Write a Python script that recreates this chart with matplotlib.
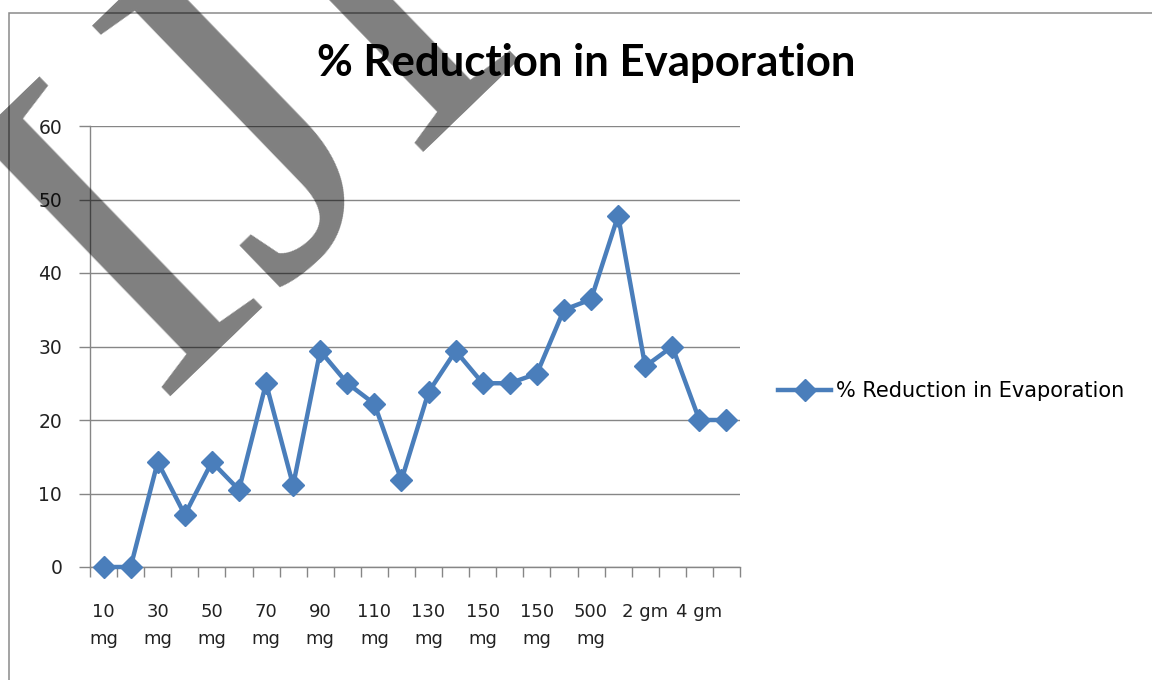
import numpy as np
import matplotlib
matplotlib.use("Agg")
import matplotlib.pyplot as plt
from matplotlib.patches import Rectangle

# dose levels and measured reduction (%)
categories = ["10 mg", "20 mg", "30 mg", "40 mg", "50 mg", "60 mg", "70 mg", "80 mg",
              "90 mg", "100 mg", "110 mg", "120 mg", "130 mg", "140 mg", "150 mg", "150 mg",
              "150 mg", "200 mg", "500 mg", "1 gm", "2 gm", "3 gm", "4 gm", "5 gm"]
reduction = [0, 0, 14.3, 7.1, 14.3, 10.5, 25, 11.1, 29.4, 25, 22.2, 11.8,
             23.8, 29.4, 25, 25, 26.3, 35, 36.4, 47.8, 27.3, 30, 20, 20]
yticks = [0, 10, 20, 30, 40, 50, 60]

series_name = "% Reduction in Evaporation"
blue = "#4a7ebb"
grey = "#868686"

W, H = 1152, 680
fig = plt.figure(figsize=(W / 100, H / 100), dpi=100)

# chart area border
fig.patches.append(Rectangle((9 / W, -0.1), 1.2, 1 - 13 / H + 0.1, transform=fig.transFigure,
                             fill=False, edgecolor="#8a8a8a", linewidth=1.1))

ax = fig.add_axes([90 / W, 1 - 567 / H, 650 / W, 441 / H])
x = np.arange(len(categories))
ax.plot(x, reduction, color=blue, linewidth=3.2, marker="D", markersize=11.5,
        clip_on=False, zorder=5, label=series_name)

ax.set_xlim(-0.5, len(categories) - 0.5)
ax.set_ylim(0, 60)
ax.set_yticks(yticks)
ax.yaxis.grid(True, color=grey, linewidth=1.0)
ax.set_axisbelow(True)

# every second category gets a label, Excel style wrapping
shown = [c.replace(" mg", "\nmg") for c in categories[::2]]
ax.set_xticks(x[::2])
ax.set_xticklabels(shown, fontsize=13, linespacing=1.65, family="DejaVu Sans", color="#222222")
ax.set_xticks(np.arange(len(categories) + 1) - 0.5, minor=True)
ax.tick_params(axis="x", which="major", length=0, pad=26)
ax.tick_params(axis="x", which="minor", length=7, width=1, color=grey, direction="out")
ax.tick_params(axis="y", length=8, width=1, color=grey, pad=12, labelsize=13.5, labelcolor="#222222")

for side in ["top", "right"]:
    ax.spines[side].set_visible(False)
for side in ["left", "bottom"]:
    ax.spines[side].set_color(grey)
    ax.spines[side].set_linewidth(1.0)

fig.text(586 / W, 1 - 63 / H, series_name, ha="center", va="center",
         fontsize=31.5, fontweight="bold", family="Lato")

fig.legend(loc="center left", bbox_to_anchor=(778 / W, 1 - 391 / H), frameon=False,
           fontsize=15, handlelength=2.55, handletextpad=0.25, borderpad=0, borderaxespad=0)

# journal watermark
fig.text(153 / W, 1 - 396 / H, "IJRTE", rotation=44, rotation_mode="anchor",
         ha="left", va="baseline", fontsize=352, family="Liberation Serif",
         color="black", alpha=0.5, zorder=10)

fig.savefig("out.png", dpi=100)
